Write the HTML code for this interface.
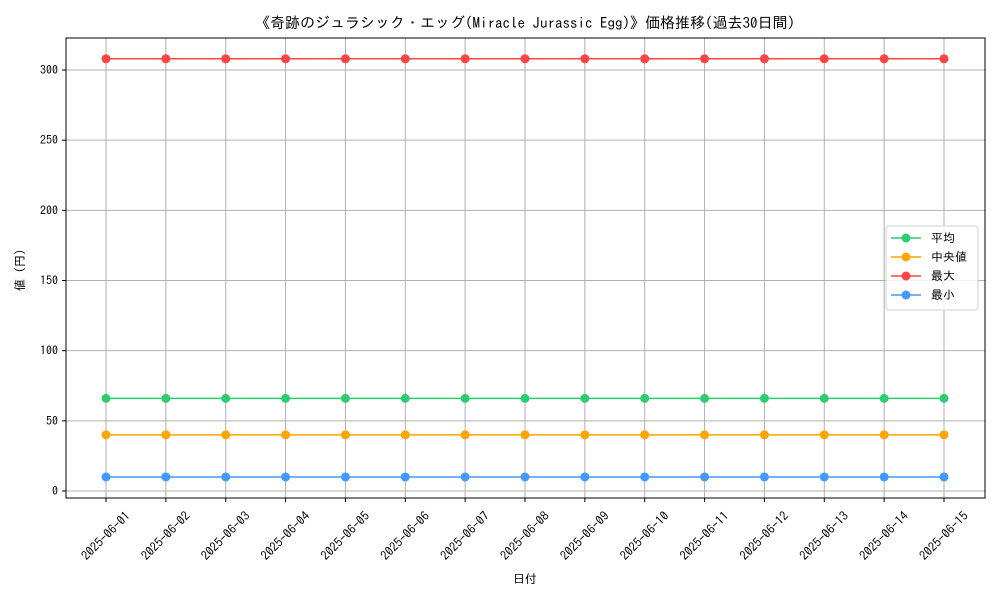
<!DOCTYPE html>
<html><head><meta charset="utf-8">
<style>
body{margin:0;background:#fff;}
svg{display:block;font-family:"IPAGothic","Liberation Sans","Noto Sans CJK JP",sans-serif;}
</style></head>
<body>
<svg id="chart" width="1000" height="600" viewBox="0 0 1000 600">
<text x="525" y="28" text-anchor="middle" font-size="15" fill="#000">《奇跡のジュラシック・エッグ(Miracle Jurassic Egg)》価格推移(過去30日間)</text>
<g id="grid"></g>
<g id="axes"></g>
<g id="series"></g>
<rect x="66" y="38" width="919" height="460" fill="none" stroke="#000" stroke-width="1"/>
<text x="525" y="583" text-anchor="middle" font-size="12">日付</text>
<text x="24" y="270" text-anchor="middle" font-size="12" transform="rotate(-90 24 270)">値 (円)</text>
<g id="legend"></g>
</svg>
<script>
const categories=["2025-06-01","2025-06-02","2025-06-03","2025-06-04","2025-06-05","2025-06-06","2025-06-07","2025-06-08","2025-06-09","2025-06-10","2025-06-11","2025-06-12","2025-06-13","2025-06-14","2025-06-15"];
const avgValues=[66,66,66,66,66,66,66,66,66,66,66,66,66,66,66];
const medianValues=[40,40,40,40,40,40,40,40,40,40,40,40,40,40,40];
const maxValues=[308,308,308,308,308,308,308,308,308,308,308,308,308,308,308];
const minValues=[10,10,10,10,10,10,10,10,10,10,10,10,10,10,10];
const yTicks=[0,50,100,150,200,250,300];
const seriesNames=["平均","中央値","最大","最小"];
const seriesColors=["#2ecc71","#ffa500","#ff4444","#4499ff"];

const NS="http://www.w3.org/2000/svg";
function X(i){return 106+i*(944-106)/(categories.length-1);}
function Y(v){return 491-v*421/300;}
function mk(tag,attrs,parent){const e=document.createElementNS(NS,tag);for(const k in attrs)e.setAttribute(k,attrs[k]);parent.appendChild(e);return e;}
const grid=document.getElementById('grid'),axes=document.getElementById('axes'),ser=document.getElementById('series'),leg=document.getElementById('legend');
categories.forEach((c,i)=>{
  const x=X(i);
  const l=mk('line',{x1:x,x2:x,y1:38,y2:498,stroke:'#b0b0b0','stroke-width':1},grid);
  
  
  mk('line',{x1:x,x2:x,y1:498,y2:502,stroke:'#000'},axes);
  const t=mk('text',{x:x,y:540,'font-size':12.5,'text-anchor':'middle',transform:`rotate(-45 ${x} 536)`},axes);
  t.textContent=c;
  
  
});
yTicks.forEach(v=>{
  const y=Y(v);
  const l=mk('line',{x1:66,x2:985,y1:y,y2:y,stroke:'#b0b0b0','stroke-width':1},grid);
  
  
  mk('line',{x1:62,x2:66,y1:y,y2:y,stroke:'#000'},axes);
  const t=mk('text',{x:58,y:y+4,'font-size':12,'text-anchor':'end'},axes);
  t.textContent=v;
  
  
});
const allSeries=[avgValues,medianValues,maxValues,minValues];
allSeries.forEach((vals,s)=>{
  const g=mk('g',{},ser);
  
  
  mk('polyline',{points:vals.map((v,i)=>X(i)+','+Y(v)).join(' '),fill:'none',stroke:seriesColors[s],'stroke-width':1.5},g);
  vals.forEach((v,i)=>{
    const c=mk('circle',{cx:X(i),cy:Y(v),r:4.5,fill:seriesColors[s]},g);
    
    
  });
});
mk('rect',{x:886,y:226,width:92,height:84,rx:3,fill:'#fff','fill-opacity':0.85,stroke:'#d0d0d0'},leg);
seriesNames.forEach((n,s)=>{
  const y=238+s*19;
  const g=mk('g',{},leg);
  
  
  mk('line',{x1:891,x2:921,y1:y,y2:y,stroke:seriesColors[s],'stroke-width':1.5},g);
  mk('circle',{cx:906,cy:y,r:4.5,fill:seriesColors[s]},g);
  const t=mk('text',{x:931,y:y+4,'font-size':12},g);
  t.textContent=n;
});
</script>
</body></html>
